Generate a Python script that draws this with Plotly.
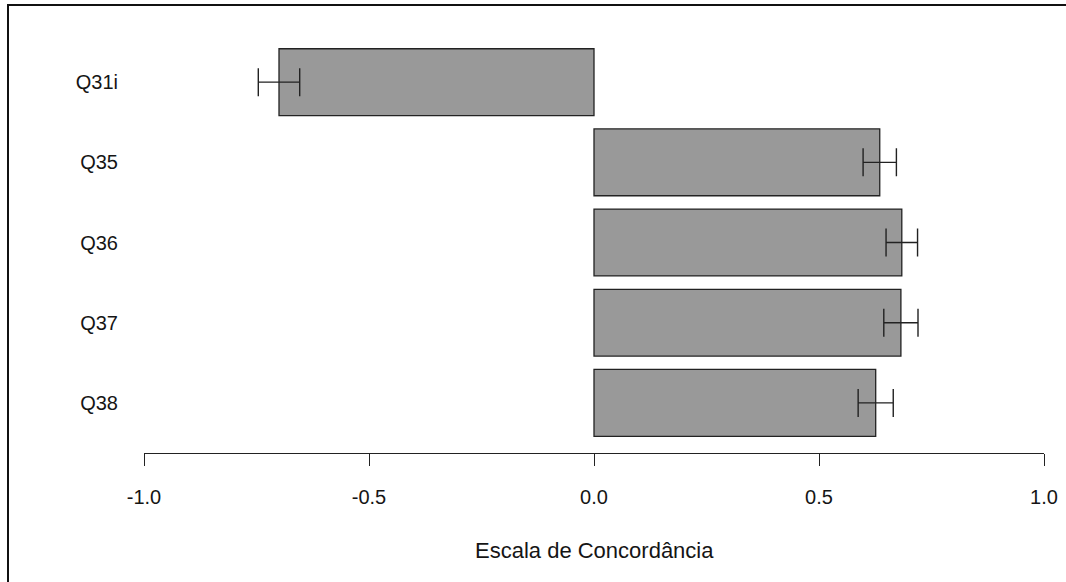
import plotly.graph_objects as go

# Mean agreement score per item, with standard error
items = ["Q31i", "Q35", "Q36", "Q37", "Q38"]
means = [-0.700, 0.635, 0.684, 0.682, 0.626]
errors = [0.046, 0.037, 0.035, 0.038, 0.039]
tick_vals_x = [-1.0, -0.5, 0.0, 0.5, 1.0]
tick_text_x = ["-1.0", "-0.5", "0.0", "0.5", "1.0"]

# first item at the top
ypos = list(range(len(items) - 1, -1, -1))

W, H = 1066, 582
ml, mr, mt, mb = 144, 22, 20, 129
plot_w = W - ml - mr
plot_h = H - mt - mb

family = "Liberation Sans, Arial, sans-serif"
ink = "#151515"
font = dict(family=family, size=20, color=ink)

fig = go.Figure()
fig.add_trace(go.Bar(
    x=means,
    y=ypos,
    orientation="h",
    width=1 / 1.2,
    marker=dict(color="#999999", line=dict(color="#222222", width=1.3)),
    error_x=dict(type="data", array=errors, visible=True,
                 color="#222222", thickness=1.4, width=14),
    hoverinfo="skip",
))

fig.update_layout(
    width=W, height=H,
    margin=dict(l=ml, r=mr, t=mt, b=mb, pad=0, autoexpand=False),
    paper_bgcolor="white", plot_bgcolor="white",
    showlegend=False,
    font=font,
    xaxis=dict(
        range=[-1.0, 1.0],
        tickvals=tick_vals_x, ticktext=tick_text_x,
        showline=True, linecolor="#222222", linewidth=1.3,
        ticks="outside", ticklen=12, tickwidth=1.3, tickcolor="#222222",
        ticklabelstandoff=14,
        showgrid=False, zeroline=False, automargin=False,
        tickfont=font,
    ),
    yaxis=dict(
        range=[-0.625, 4.775],
        tickvals=ypos, ticktext=items,
        showline=False, ticks="", showgrid=False, zeroline=False,
        ticklabelstandoff=25, automargin=False,
        tickfont=font,
    ),
    annotations=[dict(
        text="Escala de Concordância",
        xref="paper", yref="paper", x=0.5, y=0,
        xanchor="center", yanchor="middle", yshift=-97,
        showarrow=False, font=dict(family=family, size=22, color=ink),
    )],
    shapes=[dict(
        type="rect", xref="paper", yref="paper", layer="above",
        x0=(8 - ml) / plot_w, x1=(W + 10 - ml) / plot_w,
        y0=(H - mb - (H + 10)) / plot_h, y1=(H - mb - 5) / plot_h,
        line=dict(color="#111111", width=2), fillcolor="rgba(0,0,0,0)",
    )],
)

fig.write_html("out.html")
